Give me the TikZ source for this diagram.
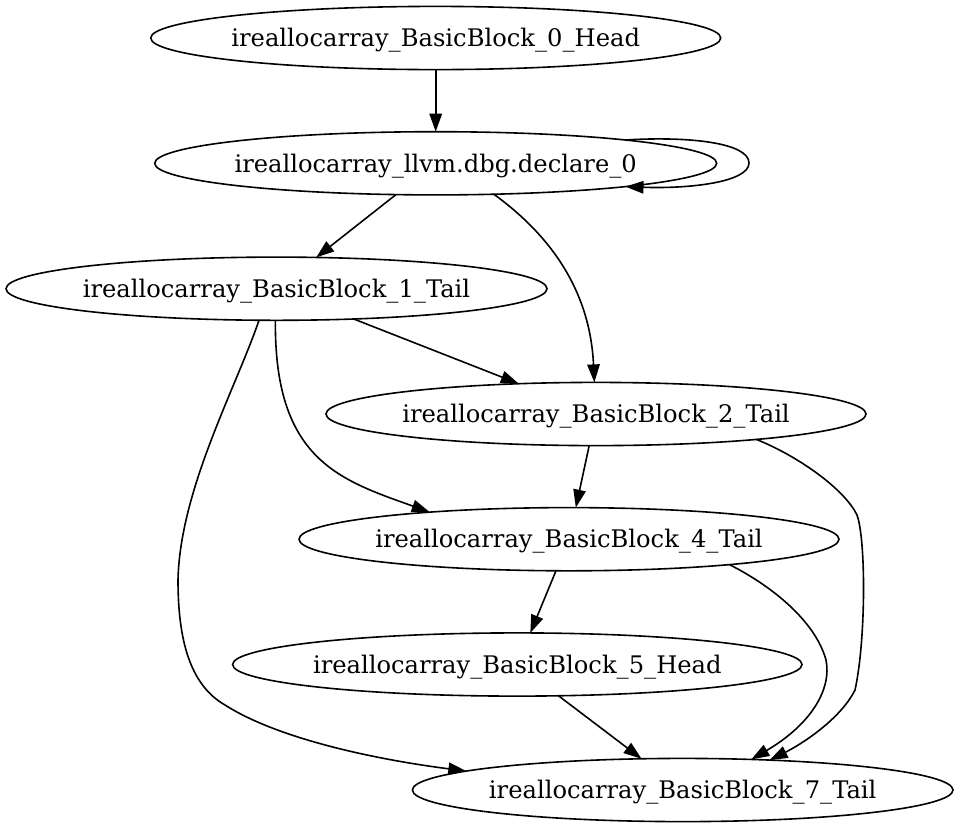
\documentclass[tikz,border=0pt]{standalone}
\usepackage{fontspec}
\setmainfont{DejaVu Serif}
\usetikzlibrary{arrows.meta,shapes.geometric}
\newcommand{\nodetxt}[1]{\makebox[0pt]{\raisebox{-8.7pt}[0pt][0pt]{#1}}}
\begin{document}
\begin{tikzpicture}[x=1pt,y=-1pt,
  gnode/.style={ellipse, draw, line width=1.6pt, inner sep=0pt, outer sep=0pt,
    minimum height=63.2pt, font=\fontsize{24.2}{29}\selectfont},
  edge/.style={line width=1.6pt, -{Triangle[length=18pt,width=12.5pt]}}]
\useasboundingbox (0,0) rectangle (960,828);
\node[gnode, minimum width=570pt] (n0) at (435.7,38) {\nodetxt{ireallocarray\_BasicBlock\_0\_Head}};
\node[gnode, minimum width=562pt] (n1) at (435.7,163.3) {\nodetxt{ireallocarray\_llvm.dbg.declare\_0}};
\node[gnode, minimum width=541pt] (n2) at (276.5,288.7) {\nodetxt{ireallocarray\_BasicBlock\_1\_Tail}};
\node[gnode, minimum width=540pt] (n3) at (596,414) {\nodetxt{ireallocarray\_BasicBlock\_2\_Tail}};
\node[gnode, minimum width=540pt] (n4) at (569,539.2) {\nodetxt{ireallocarray\_BasicBlock\_4\_Tail}};
\node[gnode, minimum width=569.4pt] (n5) at (517.3,664.5) {\nodetxt{ireallocarray\_BasicBlock\_5\_Head}};
\node[gnode, minimum width=540.6pt] (n6) at (682.7,790) {\nodetxt{ireallocarray\_BasicBlock\_7\_Tail}};

\draw[edge] (n0) -- (n1);
\draw[edge] (n1.7.35) .. controls (690,136) and (749,143) .. (749,163)
  .. controls (749,182) and (690,189) .. (n1.-7.2);
\draw[edge] (n1) -- (n2);
\draw[edge] (n1.-28.75) .. controls (550,235) and (590,290) .. (n3.93.6);
\draw[edge] (n2) -- (n3);
\draw[edge] (n2.-92.7) .. controls (274,460) and (340,480) .. (n4.169.95);
\draw[edge] (n2.-119) .. controls (235,390) and (180,490) .. (178,580)
  .. controls (178,640) and (190,685) .. (225,705)
  .. controls (280,740) and (380,760) .. (n6.175.1);
\draw[edge] (n3) -- (n4);
\draw[edge] (n3.-9.05) .. controls (800,457) and (845,490) .. (857,515)
  .. controls (866,540) and (866,640) .. (855,690)
  .. controls (840,720) and (800,745) .. (n6.19.6);
\draw[edge] (n4) -- (n5);
\draw[edge] (n4.-9.84) .. controls (770,585) and (815,620) .. (826,660)
  .. controls (832,690) and (810,725) .. (n6.24.45);
\draw[edge] (n5) -- (n6);
\end{tikzpicture}
\end{document}
